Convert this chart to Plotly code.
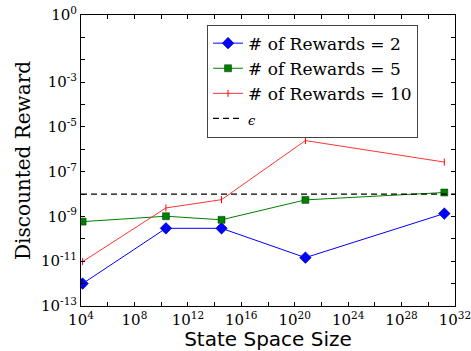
import plotly.graph_objects as go

# State space sizes (log10) and discounted rewards (log10) per reward count
state_log10 = [4.12, 10.36, 14.52, 20.80, 31.20]
rewards2_log10 = [-12.0, -9.53, -9.53, -10.84, -8.87]
rewards5_log10 = [-9.23, -8.99, -9.15, -8.26, -7.93]
rewards10_log10 = [-11.02, -8.62, -8.25, -5.61, -6.57]
epsilon_value = 1e-8
x_limits_log10 = [4, 32]
y_limits_log10 = [-13, 0]

x_vals = [10.0 ** v for v in state_log10]
serif = ("DejaVu Serif, Liberation Serif, Noto Serif, Tinos, "
         "Times New Roman, FreeSerif, serif")

fig = go.Figure()
fig.add_trace(go.Scatter(
    x=x_vals, y=[10.0 ** v for v in rewards2_log10], mode="lines+markers",
    name="# of Rewards = 2",
    line=dict(color="#0000ff", width=1),
    marker=dict(symbol="diamond", size=9, color="#0000ff",
                line=dict(color="#00008b", width=0.5)),
))
fig.add_trace(go.Scatter(
    x=x_vals, y=[10.0 ** v for v in rewards5_log10], mode="lines+markers",
    name="# of Rewards = 5",
    line=dict(color="#008000", width=1),
    marker=dict(symbol="square", size=7, color="#008000",
                line=dict(color="#003300", width=0.5)),
))
fig.add_trace(go.Scatter(
    x=x_vals, y=[10.0 ** v for v in rewards10_log10], mode="lines+markers",
    name="# of Rewards = 10",
    line=dict(color="#ff3333", width=1),
    marker=dict(symbol="line-ns", size=5, color="#ff0000",
                line=dict(color="#ff0000", width=1)),
))
fig.add_trace(go.Scatter(
    x=[10.0 ** x_limits_log10[0], 10.0 ** x_limits_log10[1]],
    y=[epsilon_value, epsilon_value], mode="lines",
    name="<span style='font-size:13px'><i>ϵ</i></span>",
    line=dict(color="black", width=1.2, dash="6px,4px"),
))

y_tick_powers = list(range(y_limits_log10[0], y_limits_log10[1] + 1))
y_label_powers = [0, -3, -5, -7, -9, -11, -13]
y_ticktext = [f"10<sup>{p}</sup>" if p in y_label_powers else "" for p in y_tick_powers]

x_tick_powers = list(range(x_limits_log10[0], x_limits_log10[1] + 1, 2))
x_ticktext = [f"10<sup>{p}</sup>" if p % 4 == 0 else "" for p in x_tick_powers]

axis_common = dict(
    showgrid=False, zeroline=False, showline=True, linecolor="black",
    linewidth=1, mirror="ticks", ticks="inside", ticklen=4, tickcolor="black",
    tickfont=dict(family=serif, size=15, color="black"),
    ticklabeloverflow="allow", automargin=False,
)

fig.update_layout(
    width=471, height=351,
    margin=dict(l=81, r=16, t=15, b=45, autoexpand=False),
    paper_bgcolor="white", plot_bgcolor="white",
    font=dict(family=serif),
    showlegend=True,
    legend=dict(
        x=0.337, y=0.967, xanchor="left", yanchor="top",
        bgcolor="white", bordercolor="#444444", borderwidth=1,
        font=dict(family=serif, size=17, color="black"),
        itemwidth=30,
    ),
    xaxis=dict(
        type="log", range=[x_limits_log10[0], x_limits_log10[1] + 0.0005],
        tickvals=[10.0 ** p for p in x_tick_powers], ticktext=x_ticktext,
        title=dict(text="State Space Size", standoff=0,
                   font=dict(family="DejaVu Sans, sans-serif", size=20, color="black")),
        **axis_common,
    ),
    yaxis=dict(
        type="log", range=[y_limits_log10[0] - 0.0005, y_limits_log10[1] + 0.0005],
        tickvals=[10.0 ** p for p in y_tick_powers], ticktext=y_ticktext,
        title=dict(text="Discounted Reward", standoff=4,
                   font=dict(family=serif, size=20, color="black")),
        **axis_common,
    ),
)

fig.write_html("out.html")
